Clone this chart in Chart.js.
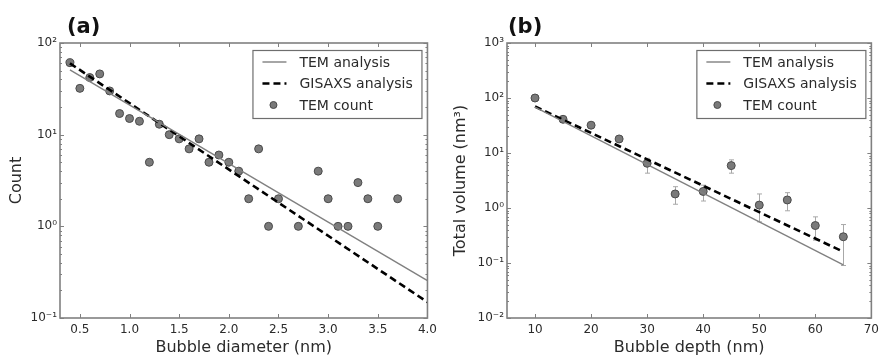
<!DOCTYPE html>
<html><head><meta charset="utf-8">
<script src="https://cdn.jsdelivr.net/npm/chart.js@4/dist/chart.umd.min.js"></script>
<style>
html,body{margin:0;padding:0;background:#fff;}
#wrap{position:relative;width:884px;height:357px;overflow:hidden;}
canvas{position:absolute;top:0;}
</style></head><body>
<div id="wrap">
<canvas id="ca" width="442" height="357" style="left:0"></canvas>
<canvas id="cb" width="442" height="357" style="left:442px"></canvas>
</div>
<script>
// ---------- Panel (a) ----------
const diameterNm = [0.4,0.5,0.6,0.7,0.8,0.9,1.0,1.1,1.2,1.3,1.4,1.5,1.6,1.7,1.8,1.9,2.0,2.1,2.2,2.3,2.4,2.5,2.7,2.9,3.0,3.1,3.2,3.3,3.4,3.5,3.7];
const temCountA  = [61,32,42,46,30,17,15,14,5,13,10,9,7,9,5,6,5,4,2,7,1,2,1,4,2,1,1,3,2,1,2];
const fitDiameterNm = [0.4, 4.0];
const temAnalysisA  = [51, 0.256];
const gisaxsAnalysisA = [60, 0.149];
const xTicksA = [0.5,1.0,1.5,2.0,2.5,3.0,3.5,4.0];
const xTickLabelsA = ['0.5','1.0','1.5','2.0','2.5','3.0','3.5','4.0'];
const yTicksA = [0.1,1,10,100];
const yTickLabelsA = ['10\u207B\u00B9','10\u2070','10\u00B9','10\u00B2'];

// ---------- Panel (b) ----------
const depthNm   = [10,15,20,25,30,35,40,45,50,55,60,65];
const volumeB   = [100,41,32,18,6.5,1.8,2.0,5.9,1.13,1.4,0.48,0.30];
const volErrLow = [100,41,32,18,4.3,1.17,1.34,4.3,0.56,0.89,0.26,0.09];
const volErrHigh= [100,41,32,18,8.0,2.44,2.6,7.5,1.8,1.9,0.69,0.5];
const fitDepthNm = [10, 65];
const temAnalysisB = [68, 0.092];
const gisaxsAnalysisB = [70, 0.16];
const xTicksB = [10,20,30,40,50,60,70];
const xTickLabelsB = ['10','20','30','40','50','60','70'];
const yTicksB = [0.01,0.1,1,10,100,1000];
const yTickLabelsB = ['10\u207B\u00B2','10\u207B\u00B9','10\u2070','10\u00B9','10\u00B2','10\u00B3'];

const FONT = 'DejaVu Sans';
const TXT = '#2b2b2b';
const FRAME = '#808080';
const SOLID = '#808080';
const PTFILL = '#7a7a7a';
const PTEDGE = '#4a4a4a';
const DASH = [7,4];

function pts(xs, ys){ return xs.map((x,i)=>({x, y: ys[i]})); }

function logTicks(majors){
  const out = [];
  for (let i=0;i<majors.length;i++){
    out.push({value: majors[i], major: true});
    if (i < majors.length-1){
      for (let k=2;k<=9;k++) out.push({value: majors[i]*k, major:false});
    }
  }
  return out;
}

const decoPlugin = {
  id: 'deco',
  beforeDatasetsDraw(chart){
    const o = chart.options.plugins.deco;
    if (!o.err) return;
    const {ctx, scales:{x,y}} = chart;
    ctx.save();
    ctx.strokeStyle = '#a8a8a8'; ctx.lineWidth = 1;
    o.err.x.forEach((xv,i)=>{
      const lo = o.err.lo[i], hi = o.err.hi[i];
      if (lo === hi) return;
      const px = Math.round(x.getPixelForValue(xv))+0.5;
      const p1 = y.getPixelForValue(lo), p2 = y.getPixelForValue(hi);
      ctx.beginPath();
      ctx.moveTo(px,p1); ctx.lineTo(px,p2);
      ctx.moveTo(px-2.5,p1); ctx.lineTo(px+2.5,p1);
      ctx.moveTo(px-2.5,p2); ctx.lineTo(px+2.5,p2);
      ctx.stroke();
    });
    ctx.restore();
  },
  afterDatasetsDraw(chart){
    const o = chart.options.plugins.deco;
    const {ctx, chartArea:a, scales:{x,y}} = chart;
    ctx.save();
    ctx.strokeStyle = FRAME; ctx.lineWidth = 1;
    ctx.beginPath();
    x.ticks.forEach(t=>{
      const px = Math.round(x.getPixelForValue(t.value))+0.5;
      ctx.moveTo(px,a.bottom); ctx.lineTo(px,a.bottom-4);
      ctx.moveTo(px,a.top); ctx.lineTo(px,a.top+4);
    });
    y.ticks.forEach(t=>{
      const py = Math.round(y.getPixelForValue(t.value))+0.5;
      const L = t.major ? 4 : 2;
      ctx.moveTo(a.left,py); ctx.lineTo(a.left+L,py);
      ctx.moveTo(a.right,py); ctx.lineTo(a.right-L,py);
    });
    ctx.stroke();
    ctx.lineWidth = 1.6;
    ctx.strokeRect(a.left, a.top, a.right-a.left, a.bottom-a.top);
    ctx.fillStyle = '#111';
    ctx.font = 'bold 21px "' + FONT + '"';
    ctx.textBaseline = 'alphabetic';
    ctx.textAlign = 'left';
    ctx.fillText(o.label, a.left + o.labelDx, 33);
    const bw = 169, bh = 68;
    const bx = a.right - 6 - bw, by = a.top + 7;
    ctx.fillStyle = '#fff';
    ctx.fillRect(bx, by, bw, bh);
    ctx.strokeStyle = '#6e6e6e'; ctx.lineWidth = 1.2;
    ctx.strokeRect(bx+0.5, by+0.5, bw, bh);
    const rows = [by+12, by+33.5, by+55];
    const ds = chart.data.datasets;
    ctx.font = '14px "' + FONT + '"';
    ctx.textBaseline = 'middle';
    ds.forEach((d,i)=>{
      const ry = rows[i];
      if (d.showLine){
        ctx.save();
        ctx.strokeStyle = d.borderColor; ctx.lineWidth = d.borderWidth;
        ctx.setLineDash(d.borderDash || []);
        ctx.beginPath(); ctx.moveTo(bx+10, ry); ctx.lineTo(bx+34, ry); ctx.stroke();
        ctx.restore();
      } else {
        ctx.beginPath(); ctx.arc(bx+21, ry, 3.5, 0, Math.PI*2);
        ctx.fillStyle = d.backgroundColor; ctx.fill();
        ctx.strokeStyle = d.borderColor; ctx.lineWidth = 1; ctx.stroke();
      }
      ctx.fillStyle = TXT;
      ctx.fillText(d.label, bx+47, ry+1);
    });
    ctx.restore();
  }
};

function makeChart(id, cfg){
  return new Chart(document.getElementById(id), {
    type: 'scatter',
    data: { datasets: [
      { label: 'TEM analysis', data: pts(cfg.fitX, cfg.tem), showLine: true, pointRadius: 0,
        borderColor: SOLID, borderWidth: 1.4, backgroundColor: SOLID, fill: false },
      { label: 'GISAXS analysis', data: pts(cfg.fitX, cfg.gis), showLine: true, pointRadius: 0,
        borderColor: '#000', borderWidth: 2.6, borderDash: DASH, backgroundColor: '#000', fill: false },
      { label: 'TEM count', data: pts(cfg.px, cfg.py), showLine: false, pointRadius: 4,
        backgroundColor: PTFILL, borderColor: PTEDGE, borderWidth: 1 }
    ]},
    options: {
      responsive: false, animation: false,
      events: [],
      layout: { padding: { left: 0, right: cfg.padRight, top: 43, bottom: 0 } },
      plugins: {
        legend: { display: false }, tooltip: { enabled: false },
        deco: { label: cfg.label, labelDx: cfg.labelDx, err: cfg.err }
      },
      scales: {
        x: {
          type: 'linear', min: cfg.xmin, max: cfg.xmax,
          grid: { display: false, drawTicks: false, tickLength: 0 }, border: { display: false },
          afterBuildTicks: s => { s.ticks = cfg.xTicks.map(v=>({value:v})); },
          afterFit: s => { s.height = 39; },
          ticks: { autoSkip: false, maxRotation: 0, padding: 5, color: TXT,
                   font: { family: FONT, size: 12 },
                   callback: (v,i) => cfg.xLabels[i] },
          title: { display: true, text: cfg.xTitle, color: TXT,
                   font: { family: FONT, size: 16 }, padding: { top: 0, bottom: 0 } }
        },
        y: {
          type: 'logarithmic', min: cfg.ymin, max: cfg.ymax,
          grid: { display: false, drawTicks: false, tickLength: 0 }, border: { display: false },
          afterBuildTicks: s => { s.ticks = logTicks(cfg.yTicks); },
          afterFit: s => { s.width = cfg.yWidth; },
          ticks: { autoSkip: false, padding: 3, color: TXT,
                   font: { family: FONT, size: 12 },
                   callback: (v,i,t) => { const k = cfg.yTicks.indexOf(t[i].value); return t[i].major && k>=0 ? cfg.yLabels[k] : ''; } },
          title: { display: true, text: cfg.yTitle, color: TXT,
                   font: { family: FONT, size: 16 }, padding: { top: cfg.yTitlePad, bottom: 0 } }
        }
      }
    },
    plugins: [decoPlugin]
  });
}

makeChart('ca', {
  fitX: fitDiameterNm, tem: temAnalysisA, gis: gisaxsAnalysisA,
  px: diameterNm, py: temCountA,
  xmin: 0.3, xmax: 4.0, xTicks: xTicksA, xLabels: xTickLabelsA,
  ymin: 0.1, ymax: 100, yTicks: yTicksA, yLabels: yTickLabelsA,
  xTitle: 'Bubble diameter (nm)', yTitle: 'Count',
  yWidth: 60, yTitlePad: 7.4, padRight: 14, label: '(a)', labelDx: 7, err: null
});

makeChart('cb', {
  fitX: fitDepthNm, tem: temAnalysisB, gis: gisaxsAnalysisB,
  px: depthNm, py: volumeB,
  xmin: 5, xmax: 70, xTicks: xTicksB, xLabels: xTickLabelsB,
  ymin: 0.01, ymax: 1000, yTicks: yTicksB, yLabels: yTickLabelsB,
  xTitle: 'Bubble depth (nm)', yTitle: 'Total volume (nm\u00B3)',
  yWidth: 65, yTitlePad: 9.4, padRight: 9, label: '(b)', labelDx: 1,
  err: { x: depthNm, lo: volErrLow, hi: volErrHigh }
});
</script>
</body></html>
